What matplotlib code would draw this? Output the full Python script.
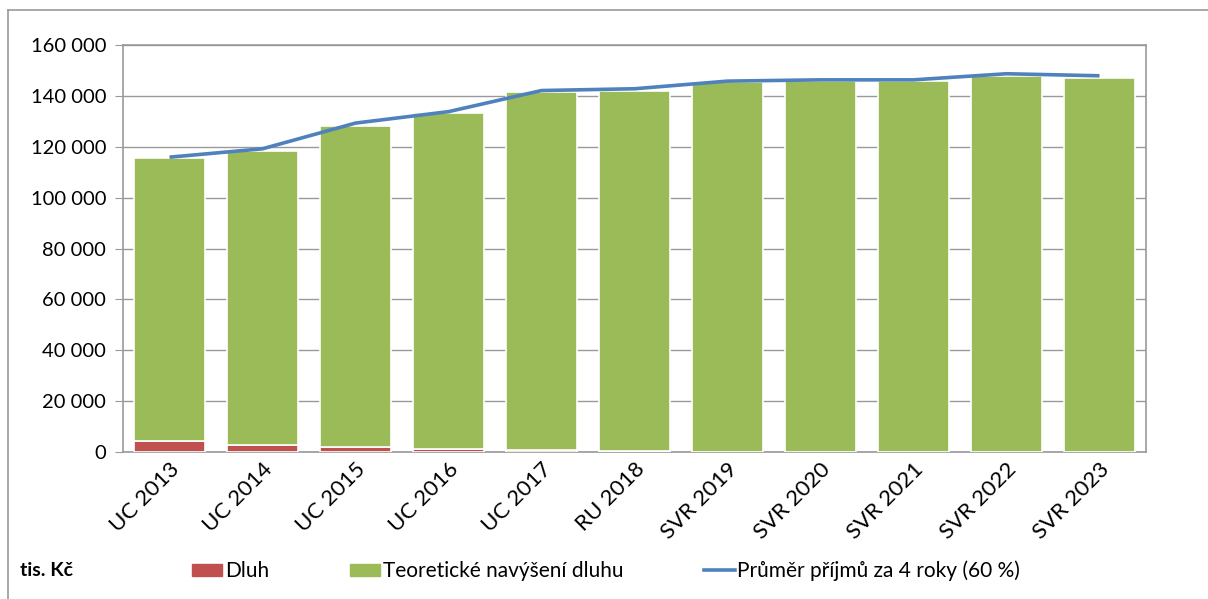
import matplotlib
matplotlib.use("Agg")
import matplotlib.pyplot as plt
from matplotlib.patches import Rectangle
from matplotlib.lines import Line2D
from matplotlib.ticker import FuncFormatter, MultipleLocator

categories = ["UC 2013", "UC 2014", "UC 2015", "UC 2016", "UC 2017", "RU 2018",
              "SVR 2019", "SVR 2020", "SVR 2021", "SVR 2022", "SVR 2023"]
dluh = [4300, 2800, 2000, 1300, 700, 300, 150, 100, 100, 100, 100]
total = [115600, 118500, 128200, 133200, 141600, 142100, 145300, 145700, 145700, 147900, 147100]
navyseni = [t - d for t, d in zip(total, dluh)]
prumer = [115900, 119200, 129300, 133800, 142100, 142800, 145800, 146300, 146300, 148700, 147900]

RED = "#C0504D"
GREEN = "#9BBB59"
BLUE = "#4F81BD"
GRID = "#999999"

plt.rcParams['font.family'] = ['Lato', 'DejaVu Sans']

fig = plt.figure(figsize=(12.08, 5.99), dpi=100)
ax = fig.add_axes([123/1208, 1-452/599, (1146-123)/1208, (452-45)/599])

x = list(range(len(categories)))
w = 0.77
ax.bar(x, dluh, width=w, color=RED, edgecolor="white", linewidth=1.2, zorder=3)
ax.bar(x, navyseni, bottom=dluh, width=w, color=GREEN, edgecolor="white", linewidth=1.2, zorder=3)
ax.plot(x, prumer, color=BLUE, linewidth=2.6, zorder=4, solid_capstyle='butt')

ax.set_xlim(-0.5, len(categories) - 0.5)
ax.set_ylim(0, 160000)
ax.yaxis.set_major_locator(MultipleLocator(20000))
ax.yaxis.set_major_formatter(FuncFormatter(lambda v, p: f"{int(v):,}".replace(",", " ")))
ax.grid(axis='y', color=GRID, linewidth=1.0, zorder=0)
ax.set_axisbelow(True)
for s in ax.spines.values():
    s.set_color(GRID)
    s.set_linewidth(1.2)
ax.tick_params(axis='y', length=6, color=GRID, labelsize=14.5, pad=6)
ax.tick_params(axis='x', length=0, labelsize=16, pad=5)
ax.set_xticks(x)
ax.set_xticklabels(categories, rotation=45, ha='right', rotation_mode='anchor')

fig.text(20/1208, 1-571/599, "tis. Kč", fontsize=14, fontweight='bold', va='center')

handles = [Rectangle((0, 0), 1, 1, color=RED),
           Rectangle((0, 0), 1, 1, color=GREEN),
           Line2D([0], [0], color=BLUE, linewidth=2.6)]
labels = ["Dluh", "Teoretické navýšení dluhu", "Průměr příjmů za 4 roky (60 %)"]
fig.legend(handles, labels, loc='center', bbox_to_anchor=(606/1208, 1-571/599), ncol=3,
           frameon=False, fontsize=15, handlelength=1.45, handleheight=0.55,
           handletextpad=0.12, columnspacing=3.9)

# outer chart border
fig.add_artist(Line2D([8/1208, 8/1208], [0, 1-10/599], color=GRID, linewidth=1.2))
fig.add_artist(Line2D([8/1208, 1], [1-10/599, 1-10/599], color=GRID, linewidth=1.2))

fig.savefig("out.png", dpi=100)
